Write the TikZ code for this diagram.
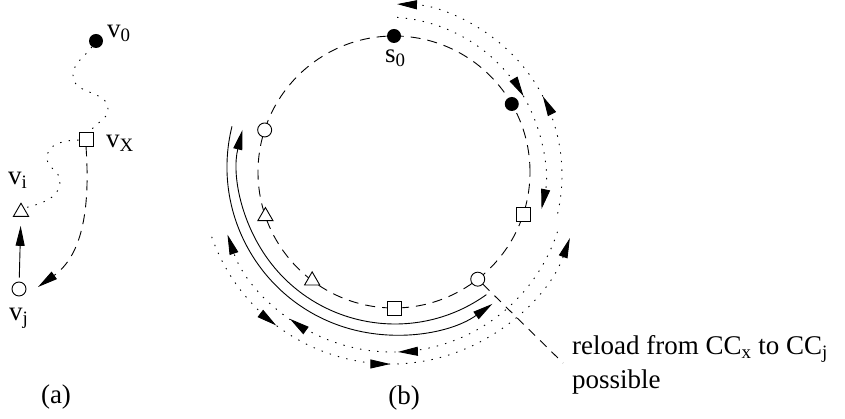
\documentclass[tikz,border=0pt]{standalone}
\usepackage{fontspec}
\setmainfont{Liberation Serif}
\usetikzlibrary{arrows.meta,calc,decorations.markings,shapes.geometric}
\begin{document}
\begin{tikzpicture}[x=1pt,y=1pt,
  font=\fontsize{27}{33}\selectfont,
  >={Triangle[length=20pt,width=9pt]},
  ln/.style={line width=0.9pt},
  dotpat/.style={ln, dash pattern=on 1.4pt off 7.2pt},
  dashpat/.style={ln, dash pattern=on 10pt off 7pt},
  leadpat/.style={ln, dash pattern=on 9pt off 7pt},
  fdot/.style={circle, fill=black, minimum size=14pt, inner sep=0pt},
  odot/.style={circle, draw, ln, fill=white, minimum size=14pt, inner sep=0pt},
  sq/.style={rectangle, draw, ln, fill=white, minimum size=14pt, inner sep=0pt},
  tri/.style={regular polygon, regular polygon sides=3, draw, ln, fill=white, minimum size=17.5pt, inner sep=0pt},
  lbl/.style={inner sep=0pt, anchor=base west},
  plain/.style={inner sep=0pt},
]
\useasboundingbox (0,0) rectangle (845,419);

% ---------- (a) ----------
\node[fdot] (v0) at (96,378) {};
\node[sq] (vX) at (86,280) {};
\node[tri] (vi) at (21,207) {};
\node[odot] (vj) at (19,130) {};
\node[lbl] (lv0) at (107,381) {v\textsubscript{0}};
\node[lbl] (lvX) at (106,271) {v\textsubscript{X}};
\node[lbl] (lvi) at (8,234) {v\textsubscript{i}};
\node[lbl] (lvj) at (9,98) {v\textsubscript{j}};
\node[plain] (la) at (56,22) {(a)};

\coordinate (a1) at (73,343);
\coordinate (a2) at (108,310);
\coordinate (a3) at (47,261);
\coordinate (a4) at (60,238);
\coordinate (vjtip) at ($(vj)+(19,2)$);

\draw[dotpat] (v0.235) to[out=235,in=90] (a1) to[out=-90,in=90] (a2) to[out=-90,in=60] (vX.60);
\draw[dotpat] (vX.188) to[out=180,in=90] (a3) to[out=-90,in=90] (a4) to[out=-90,in=15] (vi.50);
\draw[dashpat,->] (vX.south) .. controls (90,215) and (84,165) .. (vjtip);
\draw[ln,->,shorten <=4pt,shorten >=9pt] (vj) -- (vi);

% ---------- (b) ----------
\coordinate (O) at (394,247);
\coordinate (Os) at (395,252);
\coordinate (Ot1) at (386,243);
\coordinate (Ot2) at (391,244);
\coordinate (Ob1) at (392,241);
\coordinate (Ob2) at (391,245);

\draw[dashpat] (O) circle[radius=136];

% solid arcs
\draw[ln,->] ($(Os)+(166:168)$) arc[start angle=166, end angle=305.4, radius=168];
\draw[ln,->] ($(Os)+(305.6:157)$) arc[start angle=305.6, end angle=166.3, radius=157];

% dotted arcs, top right
\draw[dotpat,->,postaction={decorate},
  decoration={markings, mark=at position 0.57 with {\arrow{>}}}]
  ($(Ot1)+(86:159)$) arc[start angle=86, end angle=-12, radius=159];
\draw[dotpat,->,postaction={decorate},
  decoration={markings, mark=at position 0.40 with {\arrow{>}}}]
  ($(Ot2)+(-13:171)$) arc[start angle=-13, end angle=88, radius=171];

% dotted arcs, bottom
\draw[dotpat,->,postaction={decorate},
  decoration={markings, mark=at position 0.49 with {\arrow{>}}, mark=at position 0.755 with {\arrow{>}}}]
  ($(Ob1)+(342:174)$) arc[start angle=342, end angle=199, radius=174];
\draw[dotpat,->,postaction={decorate},
  decoration={markings, mark=at position 0.238 with {\arrow{>}}, mark=at position 0.50 with {\arrow{>}}}]
  ($(Ob2)+(199.3:190)$) arc[start angle=199.3, end angle=340.3, radius=190];

% markers on the circle
\node[fdot] (s0) at ($(O)+(90:136)$) {};
\node[fdot] (f1) at ($(O)+(30:136)$) {};
\node[sq]   (q1) at ($(O)+(-18:136)$) {};
\node[odot] (c5) at ($(O)+(-52:136)$) {};
\node[sq]   (q2) at ($(O)+(-90:136)$) {};
\node[tri]  (t2) at ($(O)+(-127:136)$) {};
\node[tri]  (t1) at ($(O)+(199:136)$) {};
\node[odot] (c1) at ($(O)+(162:136)$) {};

\node[lbl] (ls0) at (385,356) {s\textsubscript{0}};

% leader and text
\coordinate (le) at (563,56);
\draw[leadpat] (c5) -- (le);
\node[lbl] (tx1) at (572,64) {reload from CC\textsubscript{x} to CC\textsubscript{j}};
\node[lbl] (tx2) at (572,30) {possible};
\node[plain] (lb) at (404,21) {(b)};
\end{tikzpicture}
\end{document}
